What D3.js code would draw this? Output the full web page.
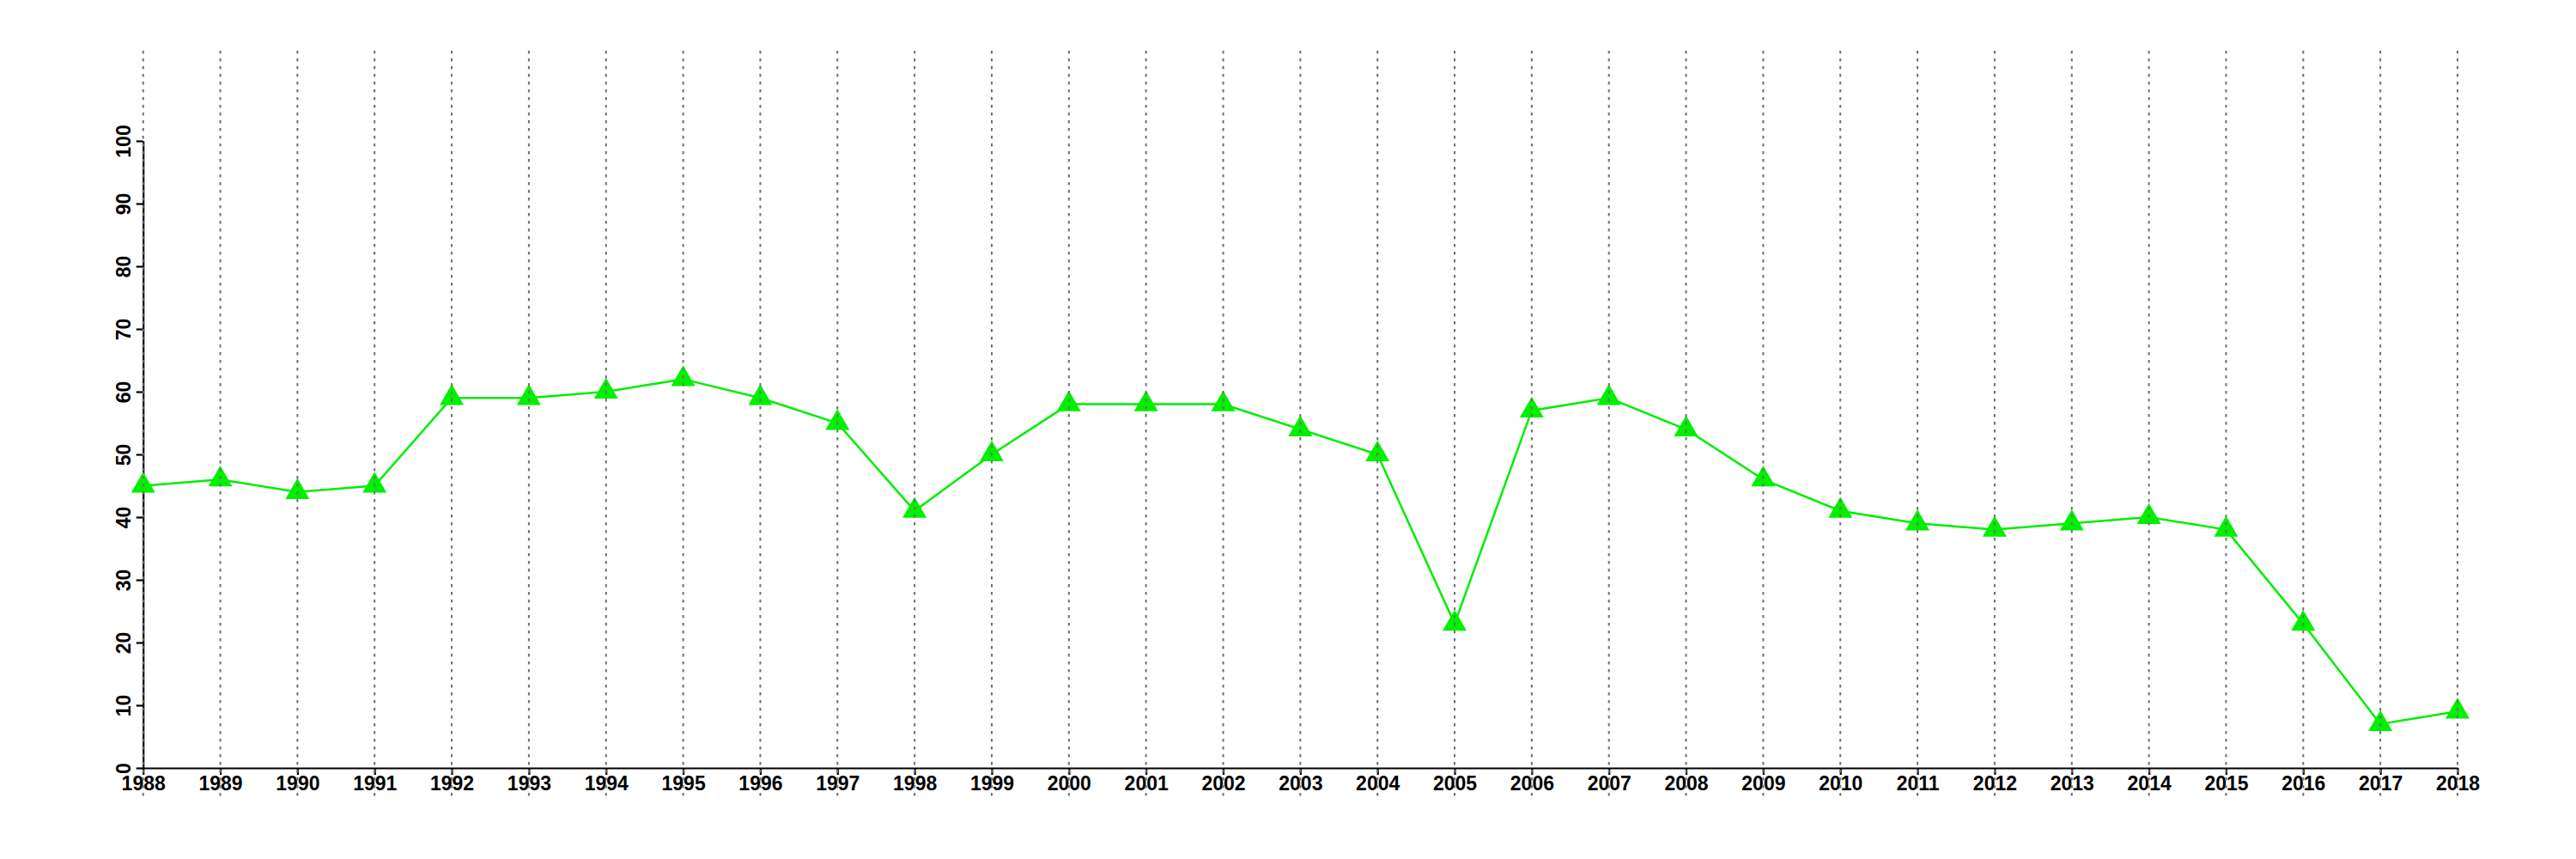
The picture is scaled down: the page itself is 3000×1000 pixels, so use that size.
<!DOCTYPE html>
<html>
<head>
<meta charset="utf-8">
<script src="https://cdn.jsdelivr.net/npm/d3@7"></script>
<style>
  html, body { margin: 0; padding: 0; background: #fff; }
  svg { display: block; }
</style>
</head>
<body>
<script>
const years = [1988,1989,1990,1991,1992,1993,1994,1995,1996,1997,1998,1999,2000,2001,2002,2003,2004,2005,2006,2007,2008,2009,2010,2011,2012,2013,2014,2015,2016,2017,2018];
const values = [45,46,44,45,59,59,60,62,59,55,41,50,58,58,58,54,50,23,57,59,54,46,41,39,38,39,40,38,23,7,9];
const yTicks = [0,10,20,30,40,50,60,70,80,90,100];

const W = 3000, H = 1000;
const mLeft = 166.7, mRight = 2862, mTop = 164, mBottom = 894;

const svg = d3.select("body").append("svg").attr("width", W).attr("height", H);

const x = d3.scaleLinear().domain([1988, 2018]).range([mLeft, mRight]);
const y = d3.scaleLinear().domain([0, 100]).range([mBottom, mTop]);

const font = "'Liberation Sans', Arial, Helvetica, sans-serif";

// Y axis
const yAxis = svg.append("g").attr("transform", `translate(${mLeft},0)`)
  .call(d3.axisLeft(y).tickValues(yTicks).tickSize(8).tickSizeOuter(0).tickFormat(d3.format("d")));
yAxis.select(".domain").attr("stroke", "#000").attr("stroke-width", 2.2);
yAxis.selectAll(".tick line").attr("stroke", "#000").attr("stroke-width", 2.2);
yAxis.selectAll(".tick text")
  .attr("x", null).attr("dy", null)
  .attr("transform", "translate(-15,0) rotate(-90)")
  .attr("text-anchor", "middle")
  .attr("font-family", font).attr("font-weight", "bold").attr("font-size", 23)
  .attr("fill", "#000");

// X axis
const xAxis = svg.append("g").attr("transform", `translate(0,${mBottom})`)
  .call(d3.axisBottom(x).tickValues(years).tickSize(8).tickSizeOuter(0).tickFormat(d3.format("d")));
xAxis.select(".domain").attr("stroke", "#000").attr("stroke-width", 2.2);
xAxis.selectAll(".tick line").attr("stroke", "#000").attr("stroke-width", 2.2);
xAxis.selectAll(".tick text")
  .attr("y", 26).attr("dy", null)
  .attr("font-family", font).attr("font-weight", "bold").attr("font-size", 23)
  .attr("fill", "#000");

// Line
const line = d3.line().x((d, i) => x(years[i])).y(d => y(d));
svg.append("path").datum(values)
  .attr("d", line)
  .attr("fill", "none")
  .attr("stroke", "#00ee00")
  .attr("stroke-width", 2.5);

// Points
const tri = d3.symbol().type(d3.symbolTriangle).size(340);
svg.append("g").selectAll("path").data(values).join("path")
  .attr("d", tri)
  .attr("transform", (d, i) => `translate(${x(years[i])},${y(d)})`)
  .attr("fill", "#00f000");

// Vertical dashed grid (drawn on top)
svg.append("g").selectAll("line").data(years).join("line")
  .attr("x1", d => x(d)).attr("x2", d => x(d))
  .attr("y1", 59).attr("y2", 927)
  .attr("stroke", "#707070")
  .attr("stroke-width", 2)
  .attr("stroke-dasharray", "3.5,5.5");
</script>
</body>
</html>
